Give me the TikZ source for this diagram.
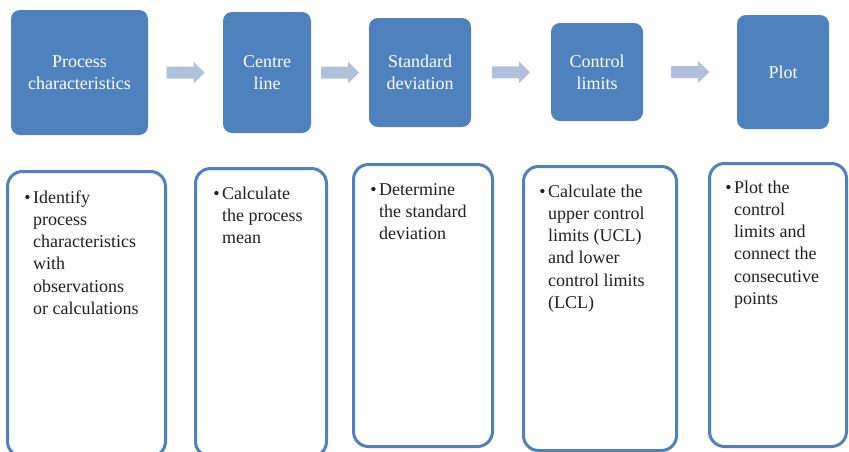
\documentclass[tikz,border=0pt]{standalone}
\usepackage{fontspec}
\setmainfont{Liberation Serif}
\usetikzlibrary{calc}
\definecolor{stepblue}{HTML}{4F81BD}
\definecolor{arrowblue}{HTML}{B0C1DD}
\definecolor{bodytext}{HTML}{231F20}

% light block arrow centred between two stage boxes
\newcommand\flowarrow[2]{%
  \fill[flow] ($(#1.east)!0.5!(#2.west)$) ++(-19,-6) -- ++(27,0) -- ++(0,-5)
    -- ++(11,11) -- ++(-11,11) -- ++(0,-5) -- ++(-27,0) -- cycle;}

% bulleted text block, first baseline at the given point
\newcommand\bulletblock[2]{%
  \parbox[t]{#1}{\raggedright\leavevmode\llap{\textbullet\hspace{2.6pt}}#2}}

\begin{document}
\begin{tikzpicture}[x=1pt,y=-1pt,
  stage/.style={fill=stepblue, draw=none, rounded corners=9pt, text=white,
    align=center, inner sep=0, font=\fontsize{18}{22.3}\selectfont},
  detail/.style={draw=stepblue, line width=3pt, rounded corners=15pt, fill=white, inner sep=0},
  bodytxt/.style={anchor=base west, inner sep=0, text=bodytext,
    font=\fontsize{18}{22.3}\selectfont},
  flow/.style={fill=arrowblue}]
\useasboundingbox (0,0) rectangle (849,451);

% stage boxes
\node[stage, minimum width=137, minimum height=125] (s1) at (79.5,72.5) {Process\\characteristics};
\node[stage, minimum width=88,  minimum height=121] (s2) at (267,72.5) {Centre\\line};
\node[stage, minimum width=102, minimum height=109] (s3) at (420,72.5) {Standard\\deviation};
\node[stage, minimum width=92,  minimum height=98]  (s4) at (597,72) {Control\\limits};
\node[stage, minimum width=92,  minimum height=114] (s5) at (783,72) {Plot};

% arrows between stages
\flowarrow{s1}{s2}
\flowarrow{s2}{s3}
\flowarrow{s3}{s4}
\flowarrow{s4}{s5}

% detail boxes
\node[detail, minimum width=158, minimum height=285] (d1) at (86.5,314) {};
\node[detail, minimum width=131, minimum height=288] (d2) at (261,312.5) {};
\node[detail, minimum width=139, minimum height=282] (d3) at (423,305.5) {};
\node[detail, minimum width=153, minimum height=284] (d4) at (600,308.5) {};
\node[detail, minimum width=137, minimum height=283] (d5) at (778,305) {};

% detail texts
\node[bodytxt] (t1) at (33,203) {\bulletblock{140pt}{Identify\\process\\characteristics\\with\\observations\\or calculations}};
\node[bodytxt] (t2) at (222,199) {\bulletblock{110pt}{Calculate\\the process\\mean}};
\node[bodytxt] (t3) at (379,195) {\bulletblock{110pt}{Determine\\the standard\\deviation}};
\node[bodytxt] (t4) at (548,197) {\bulletblock{125pt}{Calculate the\\upper control\\limits (UCL)\\and lower\\control limits\\(LCL)}};
\node[bodytxt] (t5) at (734,193) {\bulletblock{110pt}{Plot the\\control\\limits and\\connect the\\consecutive\\points}};
\end{tikzpicture}
\end{document}
